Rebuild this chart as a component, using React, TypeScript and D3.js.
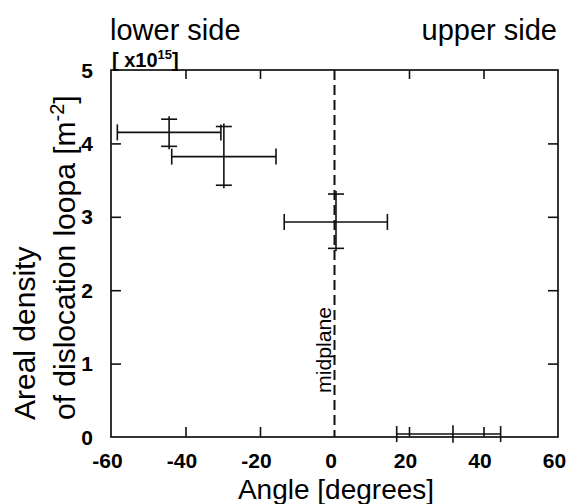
import React, { useEffect, useRef } from 'react';
import * as d3 from 'd3';

// measured points: angle (deg) with x-range, density (x10^15 m^-2) with y-range
const angles = [-44.4, -29.7, 0.4, 31.8];
const angleLow = [-58.3, -43.7, -13.5, 16.7];
const angleHigh = [-30.5, -15.7, 14.2, 44.6];
const density = [4.15, 3.82, 2.93, 0.04];
const densityLow = [3.96, 3.43, 2.57, -0.08];
const densityHigh = [4.33, 4.23, 3.31, 0.16];

const xTicks = [-60, -40, -20, 0, 20, 40, 60];
const yTicks = [0, 1, 2, 3, 4, 5];

export default function App() {
  const svgRef = useRef<SVGSVGElement>(null);

  useEffect(() => {
    const margin = { top: 70, right: 12, bottom: 67, left: 111 };
    const width = 570 - margin.left - margin.right,
      height = 504 - margin.top - margin.bottom;

    const root = d3.select(svgRef.current);
    root.selectAll('*').remove();
    const svg = root.append('g').attr('transform', `translate(${margin.left},${margin.top})`);

    const x = d3.scaleLinear().domain([-60, 60]).range([0, width]);
    const y = d3.scaleLinear().domain([0, 5]).range([height, 0]);

    const font = "'Liberation Sans', Arial, Helvetica, sans-serif";

    // frame
    svg.append('rect')
      .attr('width', width).attr('height', height)
      .attr('fill', 'none').attr('stroke', '#111').attr('stroke-width', 1.7);

    const inner = xTicks.filter(d => d !== -60 && d !== 0 && d !== 60);
    const innerY = yTicks.filter(d => d !== 0 && d !== 5);

    const tickStyle = (g: any) => {
      g.select('.domain').remove();
      g.selectAll('.tick line').attr('stroke', '#111').attr('stroke-width', 1.6);
      g.selectAll('.tick text').remove();
    };

    svg.append('g').attr('transform', `translate(0,${height})`)
      .call(d3.axisBottom(x).tickValues(inner).tickSize(-10)).call(tickStyle);
    svg.append('g')
      .call(d3.axisTop(x).tickValues(inner).tickSize(-9)).call(tickStyle);
    svg.append('g')
      .call(d3.axisLeft(y).tickValues(innerY).tickSize(-10)).call(tickStyle);
    svg.append('g').attr('transform', `translate(${width},0)`)
      .call(d3.axisRight(y).tickValues(innerY).tickSize(-10)).call(tickStyle);

    // tick labels
    svg.append('g').selectAll('text').data(xTicks).join('text')
      .attr('x', d => x(d) - 3.5).attr('y', height + 31)
      .attr('text-anchor', 'middle')
      .attr('font-family', font).attr('font-weight', 'bold').attr('font-size', 21)
      .text(d => d);
    svg.append('g').selectAll('text').data(yTicks).join('text')
      .attr('x', -18).attr('y', d => y(d)).attr('dy', '0.36em')
      .attr('text-anchor', 'end')
      .attr('font-family', font).attr('font-weight', 'bold').attr('font-size', 21)
      .text(d => d);

    // midplane
    svg.append('line')
      .attr('x1', x(0)).attr('x2', x(0)).attr('y1', 0).attr('y2', height)
      .attr('stroke', '#111').attr('stroke-width', 2).attr('stroke-dasharray', '10 5');
    svg.append('text')
      .attr('transform', `translate(${x(0) - 4},${y(0.6)}) rotate(-90)`)
      .attr('font-family', font).attr('font-size', 20)
      .attr('textLength', 86).attr('lengthAdjust', 'spacingAndGlyphs')
      .text('midplane');

    // error bars
    const pts = angles.map((a, i) => ({
      a, lo: angleLow[i], hi: angleHigh[i],
      d: density[i], dlo: densityLow[i], dhi: densityHigh[i],
    }));
    const cap = 8;
    const bars = svg.append('g').attr('stroke', '#111').attr('stroke-width', 1.6).attr('fill', 'none');
    pts.forEach(p => {
      const g = bars.append('g');
      g.append('line').attr('x1', x(p.lo)).attr('x2', x(p.hi)).attr('y1', y(p.d)).attr('y2', y(p.d));
      g.append('line').attr('x1', x(p.lo)).attr('x2', x(p.lo)).attr('y1', y(p.d) - cap).attr('y2', y(p.d) + cap);
      g.append('line').attr('x1', x(p.hi)).attr('x2', x(p.hi)).attr('y1', y(p.d) - cap).attr('y2', y(p.d) + cap);
      const small = p.dhi - p.dlo < 0.3;
      g.append('line').attr('x1', x(p.a)).attr('x2', x(p.a))
        .attr('y1', y(p.dhi) - (small ? 0 : 3)).attr('y2', y(p.dlo) + (small ? 0 : 3));
      if (!small) {
        g.append('line').attr('x1', x(p.a) - cap).attr('x2', x(p.a) + cap).attr('y1', y(p.dhi)).attr('y2', y(p.dhi));
        g.append('line').attr('x1', x(p.a) - cap).attr('x2', x(p.a) + cap).attr('y1', y(p.dlo)).attr('y2', y(p.dlo));
      }
    });

    // unit multiplier
    const mult = svg.append('text')
      .attr('x', 1).attr('y', -3)
      .attr('font-family', font).attr('font-weight', 'bold').attr('font-size', 20);
    mult.append('tspan').text('[ x10');
    mult.append('tspan').attr('font-size', 13).attr('dy', -8).text('15');
    mult.append('tspan').attr('dy', 8).text(']');

    // side labels
    root.append('text').attr('x', 110).attr('y', 40)
      .attr('font-family', font).attr('font-size', 29).text('lower side');
    root.append('text').attr('x', 557).attr('y', 40).attr('text-anchor', 'end')
      .attr('font-family', font).attr('font-size', 29).text('upper side');

    // axis titles
    root.append('text').attr('x', 336).attr('y', 499).attr('text-anchor', 'middle')
      .attr('font-family', font).attr('font-size', 28).text('Angle [degrees]');

    const yt = root.append('g').attr('transform', 'translate(35,420) rotate(-90)')
      .attr('font-family', font).attr('font-size', 30);
    yt.append('text').attr('x', 0).attr('y', 0).text('Areal density');
    const l2 = yt.append('text').attr('x', 0).attr('y', 40);
    l2.append('tspan').text('of dislocation loopa [m');
    l2.append('tspan').attr('font-size', 20).attr('dy', -11).text('-2');
    l2.append('tspan').attr('dy', 11).text(']');
  }, []);

  return (
    <svg ref={svgRef} width={570} height={504}
      style={{ position: 'absolute', left: 0, top: 0, background: '#fff' }}></svg>
  );
}
